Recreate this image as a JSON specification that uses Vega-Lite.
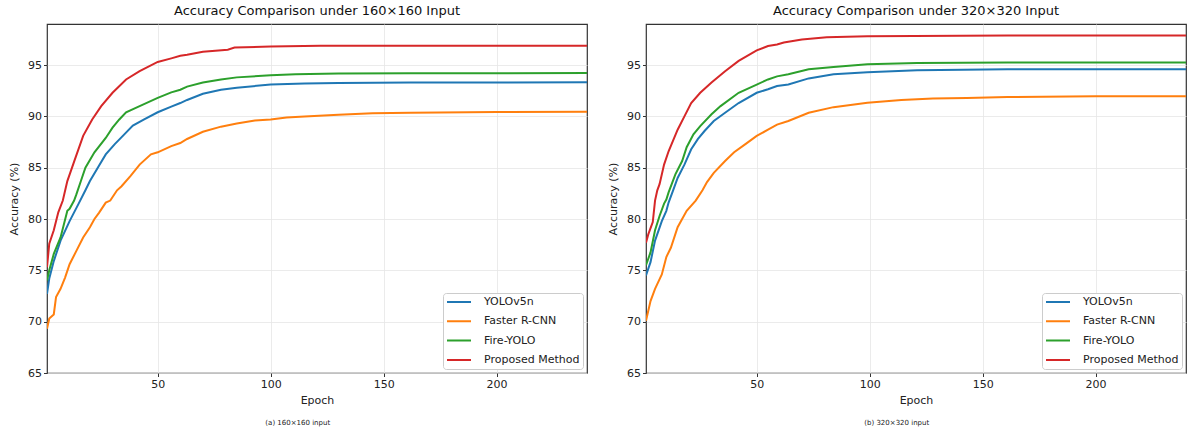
{
  "$schema": "https://vega.github.io/schema/vega-lite/v6.json",
  "background": "white",
  "padding": {"top": 4, "left": 7, "right": 2, "bottom": 4},
  "spacing": 18,
  "config": {
    "font": "DejaVu Sans",
    "view": {"stroke": "#333333", "strokeWidth": 1.2},
    "axis": {
      "labelFont": "DejaVu Sans", "labelFontSize": 11, "labelColor": "#222222",
      "titleFont": "DejaVu Sans", "titleFontSize": 11, "titleFontWeight": "normal", "titleColor": "#222222",
      "tickColor": "#333333", "tickSize": 3.5, "labelPadding": 2,
      "gridColor": "#e6e6e6", "gridWidth": 0.8, "domain": false, "labelFlush": false
    },
    "legend": {
      "labelFont": "DejaVu Sans", "labelFontSize": 11, "labelColor": "#222222"
    },
    "title": {"font": "DejaVu Sans", "fontWeight": "normal", "color": "#111111"}
  },
  "datasets": {
    "a": [
      {"model":"YOLOv5n","epoch":1,"acc":72.7},{"model":"YOLOv5n","epoch":2,"acc":74.2},{"model":"YOLOv5n","epoch":4,"acc":75.9},{"model":"YOLOv5n","epoch":7,"acc":77.9},{"model":"YOLOv5n","epoch":11,"acc":79.8},{"model":"YOLOv5n","epoch":15,"acc":81.5},{"model":"YOLOv5n","epoch":18,"acc":82.8},{"model":"YOLOv5n","epoch":20,"acc":83.7},{"model":"YOLOv5n","epoch":24,"acc":85.2},{"model":"YOLOv5n","epoch":27,"acc":86.3},{"model":"YOLOv5n","epoch":31,"acc":87.3},{"model":"YOLOv5n","epoch":35,"acc":88.2},{"model":"YOLOv5n","epoch":39,"acc":89.1},{"model":"YOLOv5n","epoch":44,"acc":89.7},{"model":"YOLOv5n","epoch":50,"acc":90.4},{"model":"YOLOv5n","epoch":56,"acc":90.95},{"model":"YOLOv5n","epoch":60,"acc":91.3},{"model":"YOLOv5n","epoch":63,"acc":91.6},{"model":"YOLOv5n","epoch":70,"acc":92.2},{"model":"YOLOv5n","epoch":78,"acc":92.6},{"model":"YOLOv5n","epoch":85,"acc":92.8},{"model":"YOLOv5n","epoch":100,"acc":93.1},{"model":"YOLOv5n","epoch":115,"acc":93.2},{"model":"YOLOv5n","epoch":130,"acc":93.25},{"model":"YOLOv5n","epoch":162,"acc":93.3},{"model":"YOLOv5n","epoch":240,"acc":93.32},
      {"model":"Faster R-CNN","epoch":1,"acc":69.3},{"model":"Faster R-CNN","epoch":2,"acc":70.3},{"model":"Faster R-CNN","epoch":4,"acc":70.7},{"model":"Faster R-CNN","epoch":5,"acc":72.4},{"model":"Faster R-CNN","epoch":7,"acc":73.2},{"model":"Faster R-CNN","epoch":9,"acc":74.3},{"model":"Faster R-CNN","epoch":11,"acc":75.6},{"model":"Faster R-CNN","epoch":14,"acc":76.9},{"model":"Faster R-CNN","epoch":17,"acc":78.2},{"model":"Faster R-CNN","epoch":20,"acc":79.2},{"model":"Faster R-CNN","epoch":22,"acc":80.0},{"model":"Faster R-CNN","epoch":24,"acc":80.6},{"model":"Faster R-CNN","epoch":27,"acc":81.6},{"model":"Faster R-CNN","epoch":29,"acc":81.8},{"model":"Faster R-CNN","epoch":32,"acc":82.8},{"model":"Faster R-CNN","epoch":34,"acc":83.2},{"model":"Faster R-CNN","epoch":38,"acc":84.2},{"model":"Faster R-CNN","epoch":42,"acc":85.3},{"model":"Faster R-CNN","epoch":47,"acc":86.3},{"model":"Faster R-CNN","epoch":50,"acc":86.5},{"model":"Faster R-CNN","epoch":56,"acc":87.1},{"model":"Faster R-CNN","epoch":60,"acc":87.4},{"model":"Faster R-CNN","epoch":63,"acc":87.8},{"model":"Faster R-CNN","epoch":70,"acc":88.5},{"model":"Faster R-CNN","epoch":78,"acc":89.0},{"model":"Faster R-CNN","epoch":85,"acc":89.3},{"model":"Faster R-CNN","epoch":93,"acc":89.6},{"model":"Faster R-CNN","epoch":100,"acc":89.7},{"model":"Faster R-CNN","epoch":107,"acc":89.9},{"model":"Faster R-CNN","epoch":115,"acc":90.0},{"model":"Faster R-CNN","epoch":130,"acc":90.15},{"model":"Faster R-CNN","epoch":145,"acc":90.3},{"model":"Faster R-CNN","epoch":162,"acc":90.36},{"model":"Faster R-CNN","epoch":200,"acc":90.42},{"model":"Faster R-CNN","epoch":240,"acc":90.45},
      {"model":"Fire-YOLO","epoch":1,"acc":74.0},{"model":"Fire-YOLO","epoch":2,"acc":75.0},{"model":"Fire-YOLO","epoch":4,"acc":76.6},{"model":"Fire-YOLO","epoch":7,"acc":78.2},{"model":"Fire-YOLO","epoch":10,"acc":80.8},{"model":"Fire-YOLO","epoch":11,"acc":81.0},{"model":"Fire-YOLO","epoch":13,"acc":81.8},{"model":"Fire-YOLO","epoch":14,"acc":82.4},{"model":"Fire-YOLO","epoch":16,"acc":83.7},{"model":"Fire-YOLO","epoch":18,"acc":85.0},{"model":"Fire-YOLO","epoch":22,"acc":86.5},{"model":"Fire-YOLO","epoch":27,"acc":87.9},{"model":"Fire-YOLO","epoch":30,"acc":88.9},{"model":"Fire-YOLO","epoch":33,"acc":89.7},{"model":"Fire-YOLO","epoch":36,"acc":90.4},{"model":"Fire-YOLO","epoch":42,"acc":91.0},{"model":"Fire-YOLO","epoch":50,"acc":91.8},{"model":"Fire-YOLO","epoch":56,"acc":92.34},{"model":"Fire-YOLO","epoch":60,"acc":92.6},{"model":"Fire-YOLO","epoch":63,"acc":92.9},{"model":"Fire-YOLO","epoch":70,"acc":93.3},{"model":"Fire-YOLO","epoch":78,"acc":93.6},{"model":"Fire-YOLO","epoch":85,"acc":93.8},{"model":"Fire-YOLO","epoch":100,"acc":94.0},{"model":"Fire-YOLO","epoch":111,"acc":94.1},{"model":"Fire-YOLO","epoch":130,"acc":94.17},{"model":"Fire-YOLO","epoch":162,"acc":94.2},{"model":"Fire-YOLO","epoch":240,"acc":94.22},
      {"model":"Proposed Method","epoch":1,"acc":75.3},{"model":"Proposed Method","epoch":2,"acc":77.6},{"model":"Proposed Method","epoch":4,"acc":78.9},{"model":"Proposed Method","epoch":6,"acc":80.65},{"model":"Proposed Method","epoch":8,"acc":81.8},{"model":"Proposed Method","epoch":10,"acc":83.7},{"model":"Proposed Method","epoch":13,"acc":85.6},{"model":"Proposed Method","epoch":17,"acc":88.1},{"model":"Proposed Method","epoch":21,"acc":89.7},{"model":"Proposed Method","epoch":25,"acc":91.0},{"model":"Proposed Method","epoch":30,"acc":92.3},{"model":"Proposed Method","epoch":36,"acc":93.6},{"model":"Proposed Method","epoch":42,"acc":94.4},{"model":"Proposed Method","epoch":50,"acc":95.3},{"model":"Proposed Method","epoch":56,"acc":95.65},{"model":"Proposed Method","epoch":60,"acc":95.9},{"model":"Proposed Method","epoch":63,"acc":96.0},{"model":"Proposed Method","epoch":70,"acc":96.3},{"model":"Proposed Method","epoch":81,"acc":96.5},{"model":"Proposed Method","epoch":84,"acc":96.7},{"model":"Proposed Method","epoch":100,"acc":96.8},{"model":"Proposed Method","epoch":122,"acc":96.87},{"model":"Proposed Method","epoch":240,"acc":96.88}
    ],
    "b": [
      {"model":"YOLOv5n","epoch":1,"acc":74.5},{"model":"YOLOv5n","epoch":3,"acc":75.8},{"model":"YOLOv5n","epoch":5,"acc":77.9},{"model":"YOLOv5n","epoch":8,"acc":79.8},{"model":"YOLOv5n","epoch":10,"acc":80.8},{"model":"YOLOv5n","epoch":11,"acc":81.6},{"model":"YOLOv5n","epoch":13,"acc":82.8},{"model":"YOLOv5n","epoch":15,"acc":84.0},{"model":"YOLOv5n","epoch":18,"acc":85.3},{"model":"YOLOv5n","epoch":21,"acc":86.8},{"model":"YOLOv5n","epoch":24,"acc":87.8},{"model":"YOLOv5n","epoch":27,"acc":88.6},{"model":"YOLOv5n","epoch":31,"acc":89.55},{"model":"YOLOv5n","epoch":36,"acc":90.35},{"model":"YOLOv5n","epoch":42,"acc":91.3},{"model":"YOLOv5n","epoch":50,"acc":92.3},{"model":"YOLOv5n","epoch":55,"acc":92.64},{"model":"YOLOv5n","epoch":59,"acc":92.95},{"model":"YOLOv5n","epoch":64,"acc":93.1},{"model":"YOLOv5n","epoch":73,"acc":93.7},{"model":"YOLOv5n","epoch":84,"acc":94.1},{"model":"YOLOv5n","epoch":99,"acc":94.3},{"model":"YOLOv5n","epoch":121,"acc":94.5},{"model":"YOLOv5n","epoch":161,"acc":94.58},{"model":"YOLOv5n","epoch":240,"acc":94.6},
      {"model":"Faster R-CNN","epoch":1,"acc":70.1},{"model":"Faster R-CNN","epoch":3,"acc":72.0},{"model":"Faster R-CNN","epoch":5,"acc":73.2},{"model":"Faster R-CNN","epoch":8,"acc":74.6},{"model":"Faster R-CNN","epoch":10,"acc":76.3},{"model":"Faster R-CNN","epoch":12,"acc":77.2},{"model":"Faster R-CNN","epoch":15,"acc":79.2},{"model":"Faster R-CNN","epoch":19,"acc":80.8},{"model":"Faster R-CNN","epoch":23,"acc":81.8},{"model":"Faster R-CNN","epoch":26,"acc":82.8},{"model":"Faster R-CNN","epoch":28,"acc":83.6},{"model":"Faster R-CNN","epoch":31,"acc":84.5},{"model":"Faster R-CNN","epoch":36,"acc":85.65},{"model":"Faster R-CNN","epoch":40,"acc":86.5},{"model":"Faster R-CNN","epoch":45,"acc":87.3},{"model":"Faster R-CNN","epoch":50,"acc":88.1},{"model":"Faster R-CNN","epoch":55,"acc":88.7},{"model":"Faster R-CNN","epoch":59,"acc":89.2},{"model":"Faster R-CNN","epoch":64,"acc":89.55},{"model":"Faster R-CNN","epoch":73,"acc":90.35},{"model":"Faster R-CNN","epoch":84,"acc":90.9},{"model":"Faster R-CNN","epoch":99,"acc":91.33},{"model":"Faster R-CNN","epoch":114,"acc":91.6},{"model":"Faster R-CNN","epoch":128,"acc":91.75},{"model":"Faster R-CNN","epoch":143,"acc":91.8},{"model":"Faster R-CNN","epoch":161,"acc":91.88},{"model":"Faster R-CNN","epoch":200,"acc":91.95},{"model":"Faster R-CNN","epoch":240,"acc":91.97},
      {"model":"Fire-YOLO","epoch":1,"acc":75.5},{"model":"Fire-YOLO","epoch":3,"acc":76.75},{"model":"Fire-YOLO","epoch":5,"acc":78.9},{"model":"Fire-YOLO","epoch":7,"acc":80.3},{"model":"Fire-YOLO","epoch":9,"acc":81.5},{"model":"Fire-YOLO","epoch":10,"acc":81.9},{"model":"Fire-YOLO","epoch":11,"acc":82.6},{"model":"Fire-YOLO","epoch":14,"acc":84.35},{"model":"Fire-YOLO","epoch":17,"acc":85.65},{"model":"Fire-YOLO","epoch":19,"acc":87.0},{"model":"Fire-YOLO","epoch":22,"acc":88.25},{"model":"Fire-YOLO","epoch":25,"acc":89.05},{"model":"Fire-YOLO","epoch":30,"acc":90.2},{"model":"Fire-YOLO","epoch":34,"acc":91.0},{"model":"Fire-YOLO","epoch":42,"acc":92.3},{"model":"Fire-YOLO","epoch":50,"acc":93.1},{"model":"Fire-YOLO","epoch":55,"acc":93.6},{"model":"Fire-YOLO","epoch":59,"acc":93.9},{"model":"Fire-YOLO","epoch":64,"acc":94.1},{"model":"Fire-YOLO","epoch":73,"acc":94.6},{"model":"Fire-YOLO","epoch":84,"acc":94.8},{"model":"Fire-YOLO","epoch":99,"acc":95.07},{"model":"Fire-YOLO","epoch":121,"acc":95.2},{"model":"Fire-YOLO","epoch":161,"acc":95.25},{"model":"Fire-YOLO","epoch":240,"acc":95.26},
      {"model":"Proposed Method","epoch":1,"acc":77.7},{"model":"Proposed Method","epoch":2,"acc":78.5},{"model":"Proposed Method","epoch":4,"acc":79.7},{"model":"Proposed Method","epoch":5,"acc":81.8},{"model":"Proposed Method","epoch":6,"acc":82.8},{"model":"Proposed Method","epoch":7,"acc":83.4},{"model":"Proposed Method","epoch":9,"acc":85.3},{"model":"Proposed Method","epoch":11,"acc":86.6},{"model":"Proposed Method","epoch":15,"acc":88.7},{"model":"Proposed Method","epoch":18,"acc":90.0},{"model":"Proposed Method","epoch":21,"acc":91.3},{"model":"Proposed Method","epoch":25,"acc":92.3},{"model":"Proposed Method","epoch":30,"acc":93.3},{"model":"Proposed Method","epoch":36,"acc":94.4},{"model":"Proposed Method","epoch":42,"acc":95.4},{"model":"Proposed Method","epoch":50,"acc":96.43},{"model":"Proposed Method","epoch":55,"acc":96.85},{"model":"Proposed Method","epoch":59,"acc":97.0},{"model":"Proposed Method","epoch":62,"acc":97.2},{"model":"Proposed Method","epoch":70,"acc":97.5},{"model":"Proposed Method","epoch":81,"acc":97.7},{"model":"Proposed Method","epoch":99,"acc":97.8},{"model":"Proposed Method","epoch":161,"acc":97.87},{"model":"Proposed Method","epoch":240,"acc":97.88}
    ]
  },
  "hconcat": [
    {
      "title": {"text": "(a) 160×160 input", "orient": "bottom", "anchor": "middle", "fontSize": 7, "offset": 13, "color": "#222222"},
      "resolve": {"legend": {"color": "independent"}},
      "vconcat": [
        {
          "width": 540, "height": 349,
          "data": {"name": "a"},
          "title": {"text": "Accuracy Comparison under 160×160 Input", "fontSize": 13, "anchor": "middle", "frame": "group", "offset": 6},
          "mark": {"type": "line", "strokeWidth": 2, "clip": true},
          "encoding": {
            "x": {"field": "epoch", "type": "quantitative", "title": "Epoch", "scale": {"domain": [1, 240], "nice": false, "zero": false}, "axis": {"values": [50, 100, 150, 200], "titlePadding": 5}},
            "y": {"field": "acc", "type": "quantitative", "title": "Accuracy (%)", "scale": {"domain": [65, 99], "nice": false, "zero": false}, "axis": {"values": [65, 70, 75, 80, 85, 90, 95], "titlePadding": 8}},
            "color": {"field": "model", "type": "nominal", "sort": null,
              "scale": {"domain": ["YOLOv5n", "Faster R-CNN", "Fire-YOLO", "Proposed Method"], "range": ["#1f77b4", "#ff7f0e", "#2ca02c", "#d62728"]},
              "legend": {"title": null, "orient": "bottom-right", "offset": 4, "strokeColor": "#cccccc", "fillColor": "white", "padding": 3, "cornerRadius": 3, "symbolType": "stroke", "symbolStrokeWidth": 2, "symbolSize": 576, "clipHeight": 12, "rowPadding": 7.3, "labelOffset": 12}}
          }
        }
      ]
    },
    {
      "title": {"text": "(b) 320×320 input", "orient": "bottom", "anchor": "middle", "fontSize": 7, "offset": 13, "color": "#222222"},
      "resolve": {"legend": {"color": "independent"}},
      "vconcat": [
        {
          "width": 540, "height": 349,
          "data": {"name": "b"},
          "title": {"text": "Accuracy Comparison under 320×320 Input", "fontSize": 13, "anchor": "middle", "frame": "group", "offset": 6},
          "mark": {"type": "line", "strokeWidth": 2, "clip": true},
          "encoding": {
            "x": {"field": "epoch", "type": "quantitative", "title": "Epoch", "scale": {"domain": [1, 240], "nice": false, "zero": false}, "axis": {"values": [50, 100, 150, 200], "titlePadding": 5}},
            "y": {"field": "acc", "type": "quantitative", "title": "Accuracy (%)", "scale": {"domain": [65, 99], "nice": false, "zero": false}, "axis": {"values": [65, 70, 75, 80, 85, 90, 95], "titlePadding": 8}},
            "color": {"field": "model", "type": "nominal", "sort": null,
              "scale": {"domain": ["YOLOv5n", "Faster R-CNN", "Fire-YOLO", "Proposed Method"], "range": ["#1f77b4", "#ff7f0e", "#2ca02c", "#d62728"]},
              "legend": {"title": null, "orient": "bottom-right", "offset": 4, "strokeColor": "#cccccc", "fillColor": "white", "padding": 3, "cornerRadius": 3, "symbolType": "stroke", "symbolStrokeWidth": 2, "symbolSize": 576, "clipHeight": 12, "rowPadding": 7.3, "labelOffset": 12}}
          }
        }
      ]
    }
  ],
  "resolve": {"legend": {"color": "independent"}}
}
